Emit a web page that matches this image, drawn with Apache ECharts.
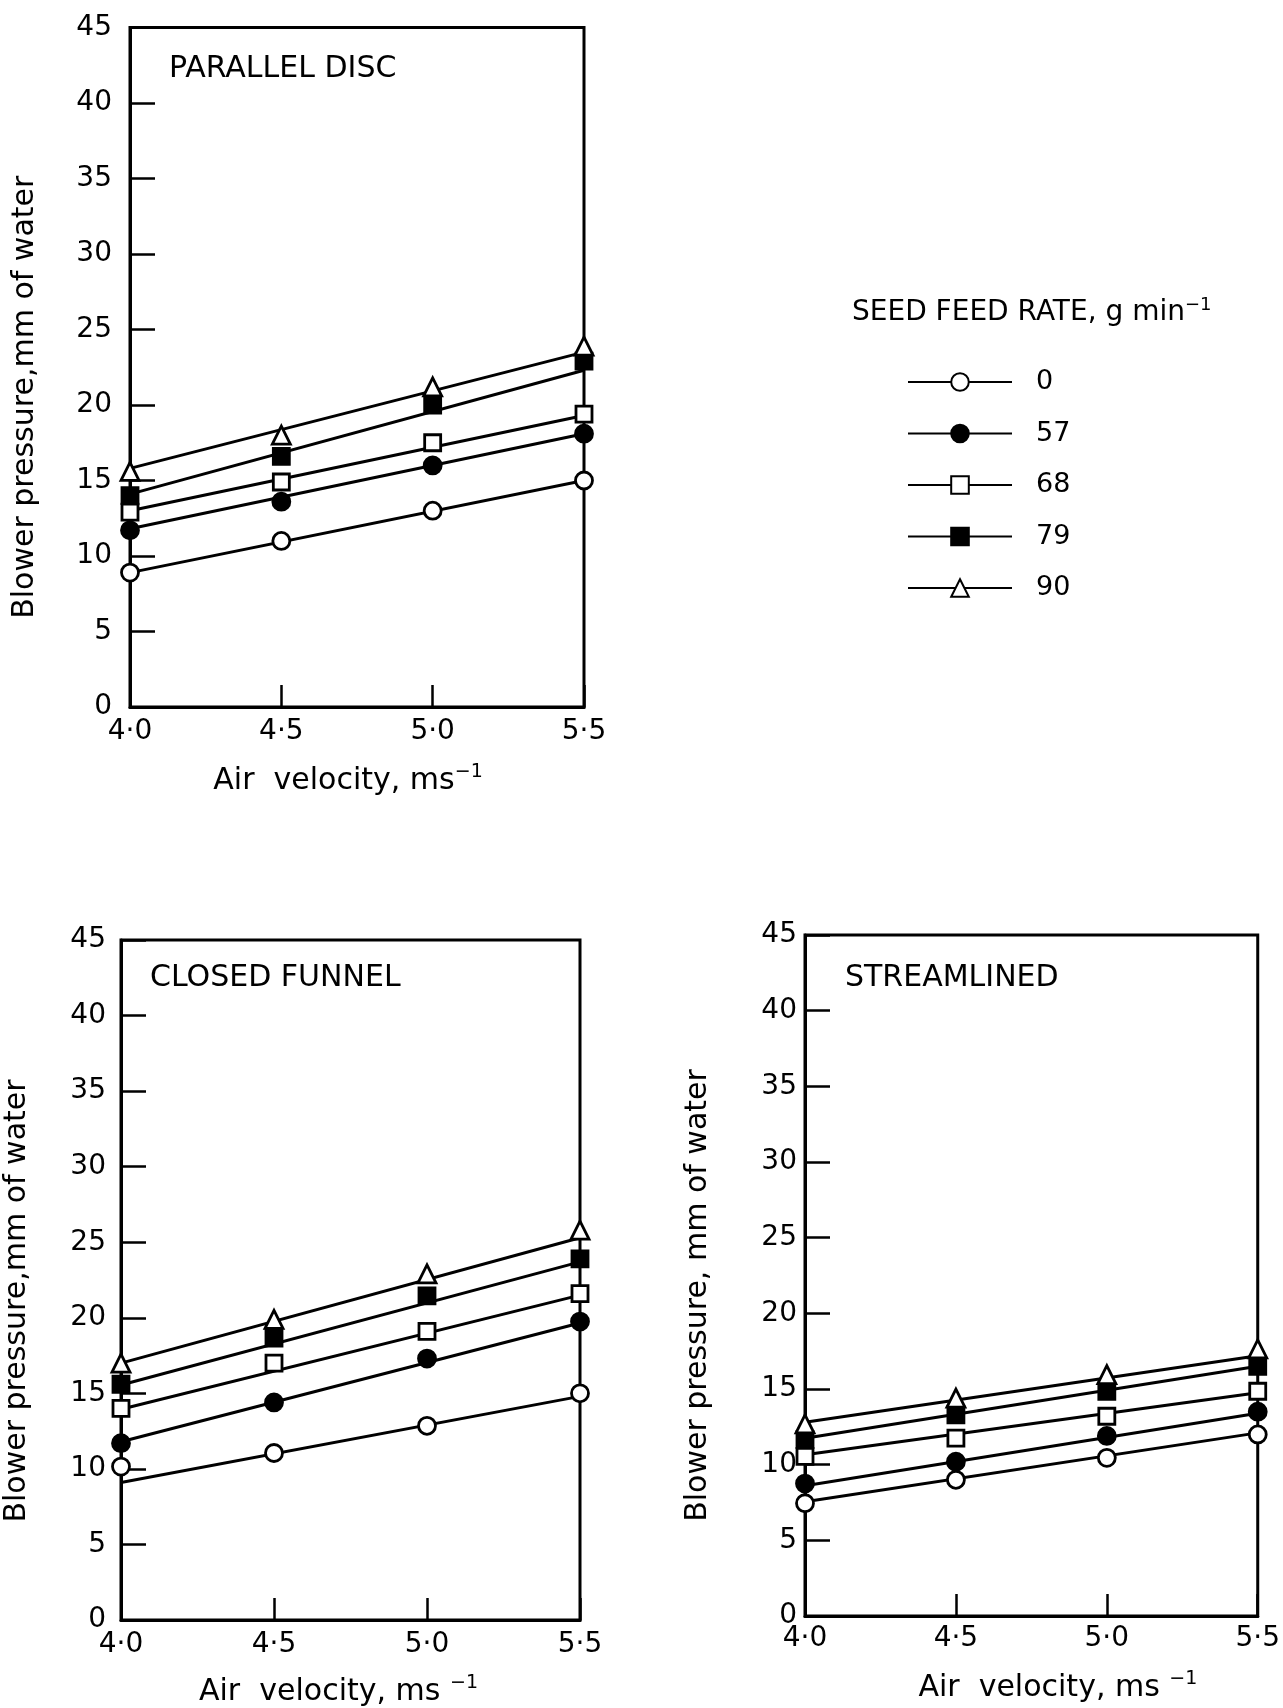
<!DOCTYPE html>
<html><head><meta charset="utf-8">
<script src="https://cdn.jsdelivr.net/npm/echarts@6/dist/echarts.min.js"></script>
<style>html,body{margin:0;padding:0;background:#fff}#c{width:1283px;height:1708px}</style>
</head><body><div id="c"></div>
<script>
// ---------- data ----------
const airVelocity = [4.0, 4.5, 5.0, 5.5];
const fitEnds = [4.0, 5.5];
const xTickLabels = ['4·0', '4·5', '5·0', '5·5'];
const feedRates = ['0', '57', '68', '79', '90'];

// Parallel disc – measured points and fitted-line end values
const parallel0  = [8.9, 11.0, 13.0, 15.0];
const parallel57 = [11.7, 13.6, 16.0, 18.1];
const parallel68 = [12.9, 14.9, 17.5, 19.4];
const parallel79 = [14.0, 16.6, 20.0, 22.9];
const parallel90 = [15.6, 18.0, 21.2, 23.9];
const parallelFit0  = [8.9, 15.0];
const parallelFit57 = [11.8, 18.1];
const parallelFit68 = [13.0, 19.3];
const parallelFit79 = [14.1, 22.3];
const parallelFit90 = [15.8, 23.5];

// Closed funnel
const closed0  = [10.15, 11.05, 12.85, 15.0];
const closed57 = [11.7, 14.4, 17.3, 19.75];
const closed68 = [14.0, 17.0, 19.1, 21.6];
const closed79 = [15.6, 18.65, 21.45, 23.9];
const closed90 = [17.0, 19.9, 22.9, 25.8];
const closedFit0  = [9.1, 14.8];
const closedFit57 = [11.8, 19.65];
const closedFit68 = [13.95, 21.5];
const closedFit79 = [15.55, 23.7];
const closedFit90 = [17.0, 25.3];

// Streamlined
const stream0  = [7.45, 9.0, 10.45, 12.0];
const stream57 = [8.75, 10.2, 11.9, 13.5];
const stream68 = [10.55, 11.75, 13.2, 14.85];
const stream79 = [11.65, 13.3, 14.85, 16.5];
const stream90 = [12.7, 14.4, 15.95, 17.65];
const streamFit0  = [7.55, 12.1];
const streamFit57 = [8.6, 13.4];
const streamFit68 = [10.65, 14.75];
const streamFit79 = [11.75, 16.5];
const streamFit90 = [12.8, 17.2];

const panelTitles = ['PARALLEL DISC', 'CLOSED FUNNEL', 'STREAMLINED'];
const yTitles = ['Blower pressure,mm of water', 'Blower pressure,mm of water', 'Blower pressure, mm of water'];
const xTitles = ['Air  velocity, ms', 'Air  velocity, ms ', 'Air  velocity, ms '];
const legendTitle = 'SEED FEED RATE, g min';

const panelPoints = [
  [parallel0, parallel57, parallel68, parallel79, parallel90],
  [closed0, closed57, closed68, closed79, closed90],
  [stream0, stream57, stream68, stream79, stream90]
];
const panelFits = [
  [parallelFit0, parallelFit57, parallelFit68, parallelFit79, parallelFit90],
  [closedFit0, closedFit57, closedFit68, closedFit79, closedFit90],
  [streamFit0, streamFit57, streamFit68, streamFit79, streamFit90]
];

// ---------- layout & style ----------
const FONT = 'DejaVu Sans';
const layout = [
  {left: 130, top: 27.5, width: 454, height: 679.5, yGap: 90, yPad: [0, 60, 0, 0], yMargin: 18, xMargin: 11, xGap: 56, xPad: [0, 18, 0, 0], tl: 169, tt: 54},
  {left: 121, top: 940, width: 459, height: 680, yGap: 89, yPad: [0, 42, 0, 0], yMargin: 15, xMargin: 11, xGap: 54, xPad: [0, 24, 0, 0], tl: 150, tt: 963},
  {left: 805, top: 935, width: 459, height: 681, yGap: 92, yPad: [0, 40, 0, 0], yMargin: 8, xMargin: 9, xGap: 54, xPad: [0, 0, 0, 53], tl: 845, tt: 963}
];
const symbols = ['circle', 'circle', 'rect', 'rect', 'triangle'];
const fills = ['#fff', '#000', '#fff', '#000', '#fff'];
const symSizes = [17, 17, 16, 16, 18];

const grids = [], xAxes = [], yAxes = [], lineSeries = [], pointSeries = [], titles = [];

layout.forEach((L, p) => {
  grids.push({left: L.left, top: L.top, width: L.width, height: L.height, show: true,
    borderColor: '#000', borderWidth: 3, backgroundColor: 'transparent', containLabel: false});
  xAxes.push({
    type: 'value', gridIndex: p, min: 4, max: 5.5, interval: 0.5,
    axisLine: {show: true, onZero: false, lineStyle: {color: '#000', width: 3}},
    axisTick: {show: true, inside: true, length: 22, lineStyle: {color: '#000', width: 2.5}},
    splitLine: {show: false},
    axisLabel: {color: '#000', fontFamily: FONT, fontSize: 28, margin: L.xMargin,
      formatter: v => xTickLabels[airVelocity.indexOf(Math.round(v * 10) / 10)]},
    name: '{a|' + xTitles[p] + '}{s|−1}', nameLocation: 'middle', nameGap: L.xGap,
    nameTextStyle: {padding: L.xPad, rich: {
      a: {fontFamily: FONT, fontSize: 30, color: '#000', lineHeight: 36},
      s: {fontFamily: FONT, fontSize: 19, color: '#000', lineHeight: 19, verticalAlign: 'top'}
    }}
  });
  yAxes.push({
    type: 'value', gridIndex: p, min: 0, max: 45, interval: 5,
    axisLine: {show: true, onZero: false, lineStyle: {color: '#000', width: 3}},
    axisTick: {show: true, inside: true, length: 25, lineStyle: {color: '#000', width: 2.5}},
    splitLine: {show: false},
    axisLabel: {color: '#000', fontFamily: FONT, fontSize: 28, margin: L.yMargin},
    name: yTitles[p], nameLocation: 'middle', nameRotate: 90, nameGap: L.yGap,
    nameTextStyle: {fontFamily: FONT, fontSize: 30, color: '#000', padding: L.yPad}
  });
  titles.push({text: panelTitles[p], left: L.tl, top: L.tt, padding: 0,
    textStyle: {fontFamily: FONT, fontSize: 30, fontWeight: 'normal', color: '#000'}});

  feedRates.forEach((rate, s) => {
    lineSeries.push({
      type: 'line', name: rate, xAxisIndex: p, yAxisIndex: p,
      data: fitEnds.map((x, i) => [x, panelFits[p][s][i]]),
      symbol: symbols[s], symbolSize: symSizes[s], showSymbol: false, silent: true,
      lineStyle: {color: '#000', width: 3},
      itemStyle: {color: fills[s], borderColor: '#000', borderWidth: 2.5},
      emphasis: {disabled: true}, z: 2
    });
    pointSeries.push({
      type: 'scatter', name: rate, xAxisIndex: p, yAxisIndex: p,
      data: airVelocity.map((x, i) => [x, panelPoints[p][s][i]]),
      symbol: symbols[s], symbolSize: symSizes[s],
      itemStyle: {color: fills[s], borderColor: '#000', borderWidth: 2.8, opacity: 1},
      emphasis: {disabled: true}, silent: true, z: 3
    });
  });
});

titles.push({
  text: '{a|' + legendTitle + '}{s|−1}', left: 852, top: 296, padding: 0,
  textStyle: {fontWeight: 'normal', rich: {
    a: {fontFamily: FONT, fontSize: 28, fontWeight: 'normal', color: '#000', lineHeight: 34},
    s: {fontFamily: FONT, fontSize: 18, fontWeight: 'normal', color: '#000', lineHeight: 18, verticalAlign: 'top'}
  }}
});

const chart = echarts.init(document.getElementById('c'), null, {renderer: 'canvas'});
chart.setOption({
  animation: false,
  backgroundColor: '#fff',
  title: titles,
  grid: grids,
  xAxis: xAxes,
  yAxis: yAxes,
  legend: {
    data: feedRates, orient: 'vertical', left: 907, top: 368.5, padding: 0,
    itemWidth: 104, itemHeight: 22, itemGap: 24.5, selectedMode: false,
    textStyle: {fontFamily: FONT, fontSize: 27, color: '#000', lineHeight: 19, padding: [0, 0, 0, 19]}
  },
  series: lineSeries.concat(pointSeries)
});
</script>
</body></html>
